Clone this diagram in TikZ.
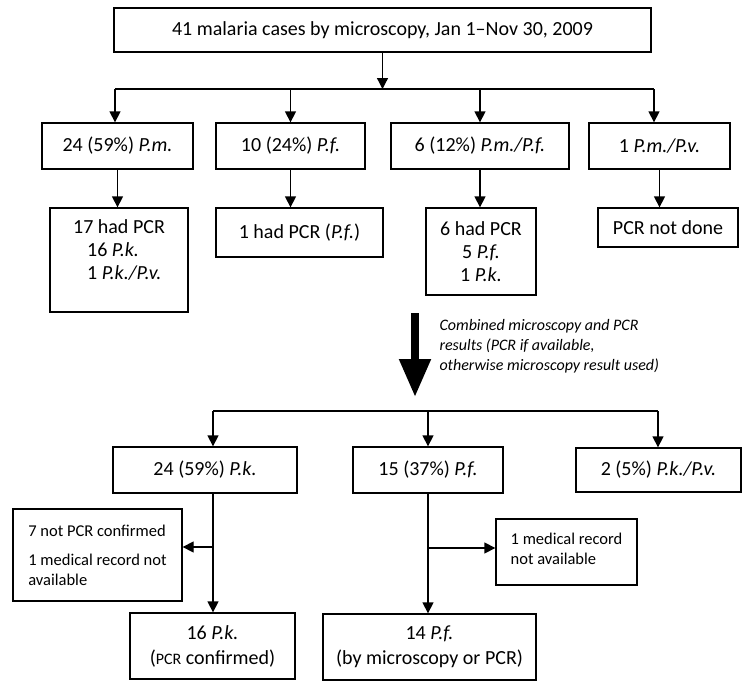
\documentclass[tikz,border=0pt]{standalone}
\usepackage{fontspec}
\setmainfont{Carlito}
\usetikzlibrary{arrows.meta}

\begin{document}
\begin{tikzpicture}[x=1pt,y=-1pt,
      box/.style={draw=black,line width=1.3pt,fill=white,align=center,inner sep=2pt,font=\fontsize{20}{24}\selectfont},
      sidebox/.style={box,align=left,font=\fontsize{16.5}{20}\selectfont},
      arr/.style={-{Triangle[length=11pt,width=11pt]},line width=1.3pt},
      link/.style={line width=1.3pt},
      bigarr/.style={-{Triangle[length=38pt,width=30pt]},line width=8pt},
      note/.style={align=left,font=\fontsize{16}{20}\selectfont\itshape}]
    \useasboundingbox (0,0) rectangle (750,688);
    % microscopy
    \node[box,minimum width=537pt,minimum height=44pt] (top) at (382.5,30) {41 malaria cases by microscopy, Jan 1--Nov 30, 2009};
    \node[box,minimum width=151pt,minimum height=46pt] (m1) at (117.5,146) {24 (59\%) \textit{P.m.}};
    \node[box,minimum width=149pt,minimum height=46pt] (m2) at (290.5,146) {10 (24\%) \textit{P.f.}};
    \node[box,minimum width=178pt,minimum height=46pt] (m3) at (480,146) {6 (12\%) \textit{P.m./P.f.}};
    \node[box,minimum width=141pt,minimum height=46pt] (m4) at (659.5,146) {1 \textit{P.m./P.v.}};
    % PCR
    \node[box,align=left,minimum width=138pt,minimum height=104pt,font=\fontsize{20}{23}\selectfont] (p1) at (119,260) {17 had PCR\\\hspace*{14pt}16 \textit{P.k.}\\\hspace*{14pt}1 \textit{P.k./P.v.}\\[-2pt]\mbox{}};
    \node[box,minimum width=167pt,minimum height=49pt] (p2) at (299.5,232.5) {1 had PCR (\textit{P.f.})};
    \node[box,minimum width=110pt,minimum height=87pt,font=\fontsize{20}{23}\selectfont] (p3) at (481,251.5) {6 had PCR\\5 \textit{P.f.}\\1 \textit{P.k.}};
    \node[box,minimum width=140pt,minimum height=39pt] (p4) at (668,227.5) {PCR not done};
    \coordinate (j1) at (382.5,89);
    \coordinate (c1) at (115,89);
    \coordinate (c4) at (654,89);
    \draw[arr] (top) -- (j1);
    \draw[link] (c1) -- (c4);
    \draw[arr] (c1) -- (c1 |- m1.north);
    \draw[arr] (m2.north |- j1) -- (m2.north);
    \draw[arr] (m3.north |- j1) -- (m3.north);
    \draw[arr] (c4) -- (c4 |- m4.north);
    \draw[arr] (m1.south) -- (m1.south |- p1.north);
    \draw[arr] (m2.south) -- (m2.south |- p2.north);
    \draw[arr] (m3.south) -- (m3.south |- p3.north);
    \draw[arr] (m4.south) -- (m4.south |- p4.north);
    % combined
    \coordinate (ba) at (415,313);
    \coordinate (bb) at (415,397);
    \draw[bigarr] (ba) -- (bb);
    \node[note,anchor=north west] (nt) at (436,316) {Combined microscopy and PCR\\results (PCR if available,\\otherwise microscopy result used)};
    \node[box,minimum width=184pt,minimum height=46pt] (k1) at (205,470) {24 (59\%) \textit{P.k.}};
    \node[box,minimum width=150pt,minimum height=46pt] (f1) at (428,470) {15 (37\%) \textit{P.f.}};
    \node[box,minimum width=165pt,minimum height=44pt] (kv) at (658.5,470) {2 (5\%) \textit{P.k./P.v.}};
    \coordinate (c5) at (213,411);
    \coordinate (c7) at (658,411);
    \draw[link] (c5) -- (c7);
    \draw[arr] (c5) -- (c5 |- k1.north);
    \draw[arr] (f1.north |- c5) -- (f1.north);
    \draw[arr] (c7) -- (c7 |- kv.north);
    % exclusions
    \node[sidebox,minimum width=169pt,minimum height=92pt] (nk) at (97.5,555) {7 not PCR confirmed\\[9pt]1 medical record not\\available};
    \node[sidebox,minimum width=141pt,minimum height=66pt] (nf) at (566.5,552) {1 medical record\\not available\\[-13pt]\mbox{}};
    \node[box,minimum width=165pt,minimum height=66pt,font=\fontsize{20}{25}\selectfont] (rk) at (212.5,646) {16 \textit{P.k.}\\({\fontsize{16}{20}\selectfont PCR} confirmed)};
    \node[box,minimum width=213pt,minimum height=66pt,font=\fontsize{20}{25}\selectfont] (rf) at (429.5,647) {14 \textit{P.f.}\\(by microscopy or PCR)};
    \coordinate (s1) at (213,547);
    \coordinate (s2) at (428,548);
    \draw[arr] (c5 |- k1.south) -- (c5 |- rk.north);
    \draw[arr] (s1) -- (s1 -| nk.east);
    \draw[arr] (f1.south) -- (f1.south |- rf.north);
    \draw[arr] (s2) -- (s2 -| nf.west);
  \end{tikzpicture}
\end{document}
